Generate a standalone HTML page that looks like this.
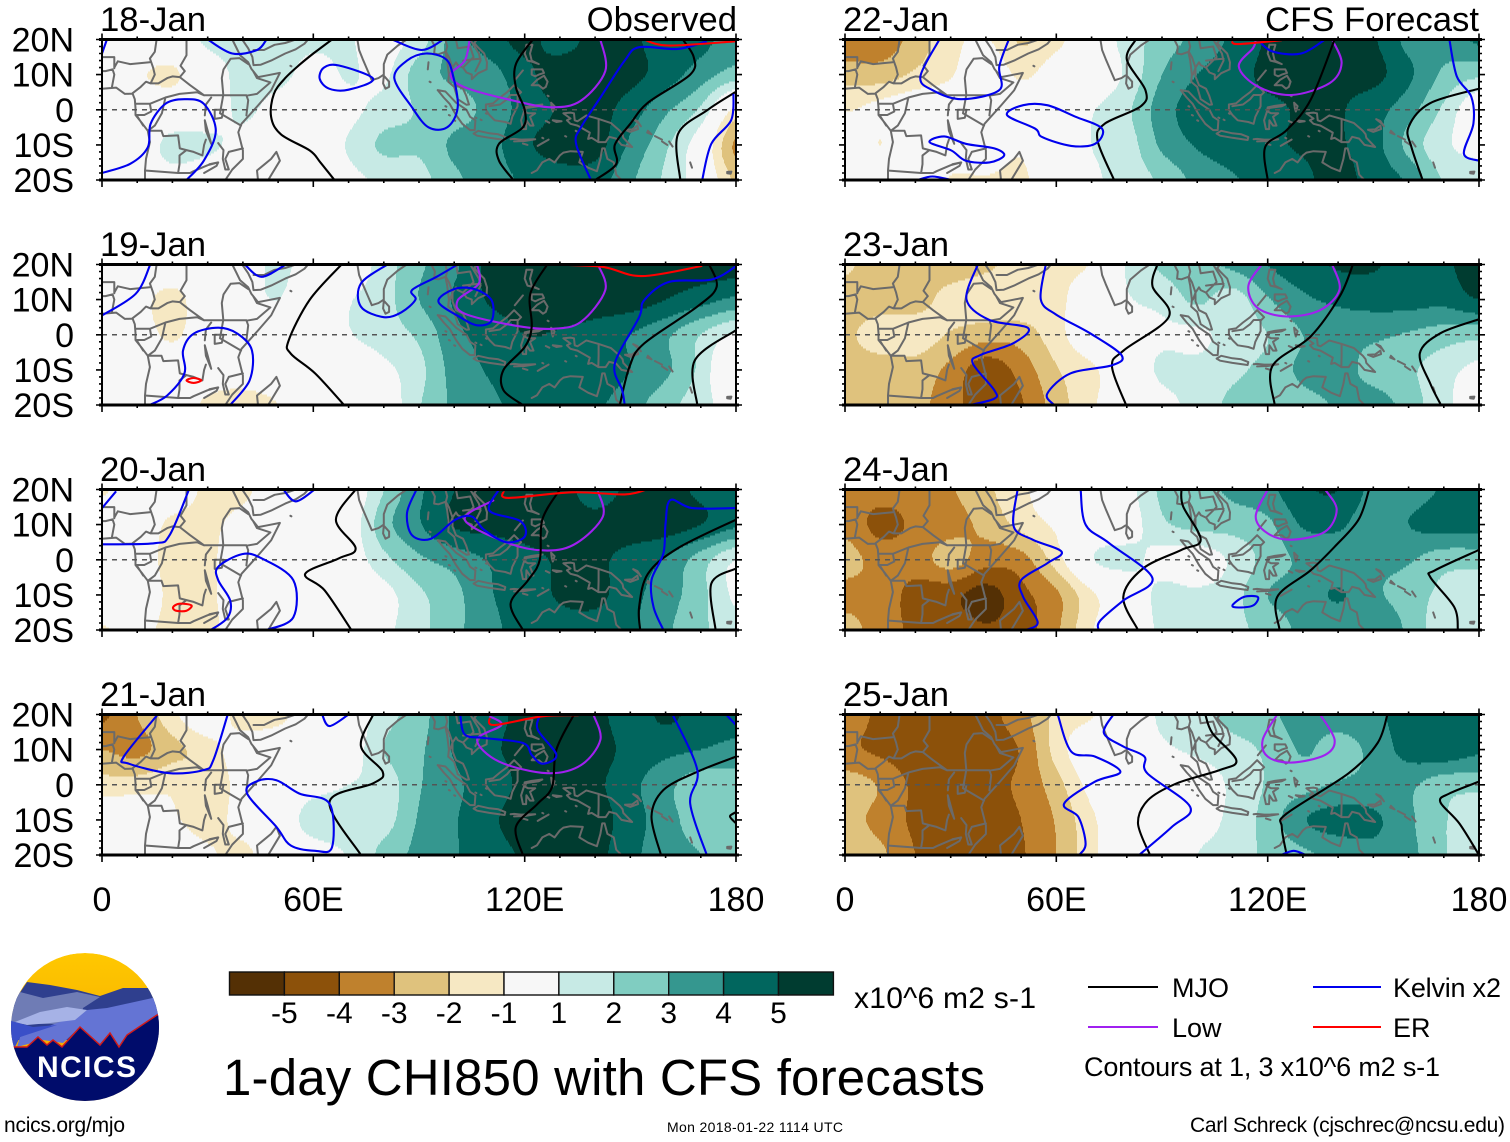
<!DOCTYPE html>
<html lang="en">
<head>
<meta charset="utf-8">
<title>1-day CHI850 with CFS forecasts</title>
<style>
html,body{margin:0;padding:0;background:#fff;width:1510px;height:1142px;overflow:hidden}
svg{display:block}
text{font-family:"Liberation Sans",sans-serif;fill:#000}
</style>
</head>
<body>
<svg id="chart" xmlns="http://www.w3.org/2000/svg" width="1510" height="1142" viewBox="0 0 1510 1142">
  <defs>
    <clipPath id="logo-clip"><circle cx="85" cy="1027" r="74"/></clipPath>
    <linearGradient id="sky" x1="0" y1="0" x2="0" y2="1"><stop offset="0" stop-color="#ffc800"/><stop offset="1" stop-color="#f0a000"/></linearGradient>
  </defs>
  <g id="panels"></g>
  <g id="axis-labels"></g>

  <g font-size="34.7">
    <text x="100" y="31">18-Jan</text>
    <text x="100" y="256">19-Jan</text>
    <text x="100" y="481">20-Jan</text>
    <text x="100" y="706">21-Jan</text>
    <text x="843" y="31">22-Jan</text>
    <text x="843" y="256">23-Jan</text>
    <text x="843" y="481">24-Jan</text>
    <text x="843" y="706">25-Jan</text>
    <text x="737" y="31" text-anchor="end">Observed</text>
    <text x="1479" y="31" text-anchor="end">CFS Forecast</text>
  </g>

  <g clip-path="url(#logo-clip)">
    <circle cx="85" cy="1027" r="74" fill="url(#sky)"/>
    <polygon fill="#2f3f8e" points="27,982 50,985 77,990 100,996 123,988 148,988 162,1010 162,1040 8,1040 15,1000"/>
    <polygon fill="#6f7cb5" points="20,992 43,998 77,992 100,997 83,1008 80,1024 8,1024 10,1007"/>
    <polygon fill="#6474d4" points="87,1010 107,1008 157,997 162,1017 127,1035 120,1047 110,1033 100,1045 80,1027 63,1043 43,1040 17,1047 20,1037 57,1023 80,1015"/>
    <polygon fill="#a6b2e6" points="15,1022 40,1012 67,1007 87,1010 75,1020 50,1023 27,1025"/>
    <polygon fill="#3a4fc8" points="8,1020 33,1027 57,1025 20,1037 15,1047 8,1047"/>
    <polygon fill="#000c6b" stroke="#d01a1a" stroke-width="1.5" points="13,1047 27,1047 38,1037 47,1045 53,1040 62,1047 80,1027 100,1045 110,1033 119,1047 127,1035 157,1015 175,1015 175,1110 0,1110 0,1047"/>
    <text x="37" y="1077" font-size="30" font-weight="bold" textLength="99" style="fill:#fff">NCICS</text>
  </g>

  <g id="colorbar"></g>
  <text x="854" y="1008" font-size="30" textLength="182">x10^6 m2 s-1</text>
  <text x="223" y="1095" font-size="51" textLength="762">1-day CHI850 with CFS forecasts</text>

  <g font-size="27">
    <line x1="1088" x2="1158" y1="987" y2="987" stroke="#000" stroke-width="2"/>
    <text x="1172" y="997">MJO</text>
    <line x1="1088" x2="1158" y1="1027" y2="1027" stroke="#a020f0" stroke-width="2"/>
    <text x="1172" y="1037">Low</text>
    <line x1="1313" x2="1381" y1="987" y2="987" stroke="#0000ee" stroke-width="2"/>
    <text x="1393" y="997" textLength="108">Kelvin x2</text>
    <line x1="1313" x2="1381" y1="1027" y2="1027" stroke="#f00" stroke-width="2"/>
    <text x="1393" y="1037">ER</text>
    <text x="1084" y="1076" textLength="356">Contours at 1, 3 x10^6 m2 s-1</text>
  </g>

  <text x="4" y="1132" font-size="21" textLength="121">ncics.org/mjo</text>
  <text x="667" y="1132" font-size="14" textLength="176">Mon 2018-01-22 1114 UTC</text>
  <text x="1190" y="1132" font-size="21" textLength="315">Carl Schreck (cjschrec@ncsu.edu)</text>
</svg>

<script>
// ---------- Axis and scale data ----------
const gridLons = [0,10,20,30,40,50,60,70,80,90,100,110,120,130,140,150,160,170,180];
const gridLats = [20,10,0,-10,-20];
const lonTickValues = [0,60,120,180];
const lonTickLabels = ['0','60E','120E','180'];
const latTickValues = [20,10,0,-10,-20];
const latTickLabels = ['20N','10N','0','10S','20S'];
const colorLevels = [-5,-4,-3,-2,-1,1,2,3,4,5];
const bandColors = ['#543005','#8c510a','#bf812d','#dfc27d','#f6e8c3','#f7f7f7','#c7eae5','#80cdc1','#35978f','#01665e','#003c30'];

// ---------- CHI850 anomaly, rows = gridLats, columns = gridLons ----------
const chi18 = [
 [0.2,0.2,0.2,1.2,1.2,1.3,1.2,1.1,0.5,1.5,3.5,4.5,5.3,4.6,5.3,5.2,4.5,4.3,3.5],
 [0,-0.8,-1.2,0.3,1.3,1.3,0.6,1.1,0.8,2.5,3.2,3.6,4.7,5.5,5.5,5.3,4.5,3.5,2.5],
 [0,0,0,0.3,1.2,0.5,0.2,0.7,1.4,2.1,2.6,3.3,4.4,5.1,5.4,4.5,3.2,1.8,-1.3],
 [0,0.3,1.3,1.2,0.6,0,0.2,1.1,2.2,2.2,3.2,3.6,4.8,5.4,5.4,3.8,2.2,0.2,-3.2],
 [0,0.2,0.6,0.2,0,0,0,0.7,1.2,1.6,2.8,3.4,4.2,4.6,4.5,3.2,1.8,0.3,-2.2]];
const chi19 = [
 [0,0,0,0,0.4,1.2,0.5,0.2,1.5,2.8,3.8,5.3,5.6,5.6,5.2,5.5,5.5,5.5,5.5],
 [0,-0.5,-1.4,0,0.5,1,0,0.9,1.6,3,4.1,5.1,5.4,5.6,5.5,5.5,5,4.4,3.8],
 [0,-0.3,-1.2,0,0.3,0,0,0.9,1.5,2.2,3.7,4.4,5,4.9,4.6,4,3.2,2,0.8],
 [0,0,0,-0.3,-0.5,-0.3,0,0,0.7,1.7,3.4,4.1,4.6,4.7,4.7,4,3.2,1.7,-0.8],
 [0,0,-0.2,-1.2,-1.3,-1,0,0,0.2,1.9,3.2,3.8,4.3,4.5,4.2,3.4,2.4,1.4,0.4]];
const chi20 = [
 [-1.2,0,0,-1.3,-1.3,0,0,0,2,3.8,5,5.4,5.5,5.4,4.6,5.2,5.4,4.8,4.5],
 [0,0,-1.3,-1.3,-0.5,0,0,0.3,2.6,3.9,5.1,5.3,5.4,5.4,5.3,5.5,5.5,5,4.2],
 [0,-0.3,-1.4,-1.3,0,0,0,0.3,1.7,2.8,3.4,4.1,4.7,5.1,5.2,4.6,3.9,2.5,1],
 [0,0,-1.3,-1.2,-0.3,0,0,0,0.6,1.8,2.7,3.9,4.5,5.1,5.3,4.3,3.5,2.3,0.8],
 [-1.1,-0.7,-1.3,-1.2,-0.5,0,0,0,0.7,1.7,2.7,3.7,4.4,4.6,4.5,4.2,3.2,2.2,1.5]];
const chi21 = [
 [-4.2,-3,-1.3,0,-1.6,-1.4,0,0,1.6,2.5,4.2,4.6,5.3,5.4,5.3,4.5,5.2,4.6,4.4],
 [-3,-3.3,-2.3,-1.5,-0.3,0,0,0.3,2,2.8,4.1,4.8,5.3,5.4,5.4,4.7,4.3,4,3.7],
 [-1.6,-1.5,-1.2,-1.8,-0.5,0,0.5,1,1.4,2.9,3.8,4.5,5.2,5.3,5.2,4.3,3.3,2.4,2.4],
 [0,0,-0.8,-1.5,-0.5,0,1.6,1.8,1.6,3.1,3.9,4.8,5.4,5.4,5.4,4.5,3.4,2.5,2.1],
 [0,0,0,-0.8,-1.3,0,0.3,1.1,2.3,3.3,3.9,4.6,5.1,5.3,5.3,4.3,3.4,3,2.4]];
const chi22 = [
 [-3.8,-3.6,-2.6,-1.3,-0.9,-2.1,-1.3,0,1.4,2.5,3.3,4.2,5.1,5.4,5.2,5.1,3.7,3.4,4.2],
 [-2.4,-2.5,-1.8,-1.1,0,-1.2,-0.3,0,1.2,3,4,4.6,5.2,5.3,5.2,5.3,4.2,2.8,2.2],
 [-1.1,-0.6,0,0,0,0,0,0.9,1.8,3.5,4.5,4.6,4.8,5.1,5.1,4.4,3.4,1.8,0],
 [0,-1,0,0,0,-0.8,0.3,1,1.5,3.2,4.1,4.5,4.8,5.1,5.1,4.4,2.7,1.2,0.7],
 [0,0,0,-1.1,-1.1,-1.2,0,0.8,1.4,2.2,3.3,3.9,4.3,4.8,5.3,4.6,3.8,1.9,1.3]];
const chi23 = [
 [-1.8,-2.6,-2.6,-2.6,-2.2,-1.6,-1.3,-0.9,1.1,2.2,2.7,3.2,4,4.6,5.1,5.1,4.6,4.8,5.6],
 [-2.5,-2.5,-2.4,-1.6,-1.3,-1.3,-1.3,0,0.9,1.3,2.2,1.5,2.9,3.8,4.2,4.4,4.4,4.3,5],
 [-2.2,-1.5,-1.5,-2.1,-2.6,-2.5,-1.4,0,0.5,0.8,0.8,1.4,2,3,3.3,3.2,2.9,2.5,2.3],
 [-2.4,-2.5,-2.4,-3.3,-4.6,-3.6,-2.1,-1.2,0,1.2,1.3,1.8,2.3,3.2,3.3,2.7,2.2,1.4,0.7],
 [-2.3,-2.6,-2.7,-3.6,-4.6,-4.1,-2.5,-1.2,0,0.6,1.4,2.2,2.3,2.7,3.1,3.4,2.6,1.2,0.7]];
const chi24 = [
 [-3.5,-3.6,-3.6,-3.1,-2.2,-1.3,0,0,0.6,2.2,2.6,3.2,3.7,4.8,5,3.7,3.5,4.1,4.1],
 [-3.3,-4.3,-3.8,-3.4,-2.7,-1.7,-0.8,0,0.4,1.8,2.3,2.4,2.8,4.1,4.2,3.3,4,4.4,4.3],
 [-2.6,-3.4,-3.5,-2.6,-3.6,-3.4,-1.5,0.9,1.3,0.6,0.3,1.2,2.4,3.2,3.3,3.2,3.1,2.4,2.4],
 [-3.3,-3.4,-4.4,-4.7,-5.4,-4.3,-3.2,-1.2,0,1.3,1.2,1.6,3,3.4,4.1,3.2,2.6,1.7,1.4],
 [-2.6,-3.5,-4.2,-4.4,-4.9,-4.5,-3.2,-1.1,0,1.2,1.4,1.7,2.4,3.2,3.2,3.8,2.8,1.3,1.4]];
const chi25 = [
 [-3.4,-4.2,-4.3,-4.6,-4.3,-3.4,-1.7,-1.1,0,1.2,1.6,2.4,2.8,3.4,3.5,3.8,4.4,4.5,4.5],
 [-3.8,-4.2,-4.6,-4.5,-4.3,-3.9,-1.6,0,0.2,0.8,1.2,1.6,2.2,3.1,2.6,3.3,4.4,4.7,4.2],
 [-2.5,-3.1,-4.2,-4.3,-4.2,-3.8,-2.4,-0.6,0,0,0.3,1.2,2.1,2.7,3.1,3.3,3.2,2.4,2.3],
 [-2.7,-3.3,-4.2,-4.4,-4.3,-4,-2.9,-1.2,0,0.6,0.5,1.3,2.4,3.9,4.4,4.2,3.2,2.1,1.3],
 [-2.5,-2.8,-4,-4.4,-4.4,-4.1,-3,-1.3,0,0,1,1.5,2.2,2.8,3.3,3.7,3.3,2.1,1.3]];

// ---------- Contours as flat lon,lat lists ----------
const mjo18 = [[65.3,20,60,16,56.3,13,52,9,48.8,4.5,48,-2,50.8,-7,59,-11.6,62,-15,66,-20],[122.3,20,117.5,13,117.5,6.4,120,0,119.5,-5,112.7,-9.7,112.7,-14.5,116.8,-20],[164.9,20,168,15,167,10,155,2,150,-4,145.6,-10,146,-15.5,140,-20],[179.8,5,172,0,163.5,-7,164.2,-20]];
const low18 = [[104.4,20,103,14,99,10,103,6.4,116.8,2.6,127.8,0.7,136,2.6,142.9,11,141.5,20]];
const kelvin18 = [[1.4,20,0,16],[30,20,37,16,44,17,46.7,20],[0,-18,8,-15.4,13,-10.7,13.8,-4,18,1.7,23.4,3,28.9,1.7,32.3,-6,28.9,-14.5,24,-20],[61.8,8.8,63,12,67.3,12.6,77,8.8,70,5.7,64.5,6,61.8,8.8],[82.4,20,90.7,17,96.9,20],[97.5,14.5,92,16,86.6,14,83,9,88,0.7,92.7,-5,98,-5,101,0.7,99.6,10,97.5,14.5],[171.7,19.5,163.5,17.3,152.5,17.8,148.4,14,141.5,3.5,136,-5,134.6,-9.7,138.8,-20],[179.3,4.5,178.6,-3,173,-9.7,170.4,-20]];
const er18 = [[153.9,20,160.8,18.3,180,19.5]];

const mjo19 = [[68,20,59,10,53,-1.6,53.6,-5.4,60.5,-11,68.7,-20],[126.4,20,121.6,11.7,122,2.3,120,-3.5,114,-10,114,-15.8,119.5,-20],[172.4,20,174.5,13.6,169,8,153.9,-2.5,149.8,-9,147,-20],[180,1.3,168.3,-7.3,169,-20]];
const low19 = [[106.5,20,107,14.6,101,9.8,103,6,116.8,2.7,127.8,1.7,136,3.7,142.9,12.7,140.8,20]];
const kelvin19 = [[13.7,20,9.6,11.7,0,5.5],[40.5,20,45.3,16.5,52.2,20],[13.5,-20,18.5,-17.3,23.4,-11,23,-4.5,26,0.3,33,2,38.5,0.3,42.6,-4.5,41.9,-13,36.4,-20],[81,20,73.5,14.6,73.5,8,80,5,85,6.4,89,10,88,12.7,95,16.5,101,20],[95.5,9.4,100,13,105.8,13,110.6,9.8,110.6,4,106.5,2.7,101.7,5,95.5,9.4],[180,19.5,173,15.7,160.8,15,153.9,9.8,152.5,5,145.6,-8.2,147.7,-15.8,148.4,-20]];
const er19 = [[123.7,20,141.5,19.4,153.2,16.7,170.4,19.6],[24,-13,26,-12.3,28.2,-13,26,-13.7,24,-13]];

const mjo20 = [[72,20,66.4,11.4,72,3.3,67.3,0.4,57.7,-4,63.2,-8.7,70.8,-20],[130,20,125,11.4,124.3,0,121,-5.8,116,-12.5,119.5,-20],[180,11.4,163.5,3.3,155,-4,152.5,-13.5,152.8,-20],[180,-2.5,173,-6.8,174.2,-20]];
const low20 = [[111.3,17,103,11.4,115.4,4.7,126.4,2.6,134.7,4.7,142.2,12.3,140.8,19.5]];
const kelvin20 = [[4,19.5,0,14.7],[24.7,20,19.2,7,15,4.7,0,4.4],[51.5,20,55,16.6,60.4,20],[30.9,-20,35.7,-16.4,36.4,-11.6,33,-5.8,33,-2,39.8,1.6,45.3,0.4,54.3,-5.8,54.3,-16.4,46.7,-20],[89.3,20,86.6,13.3,88,7,93.4,6,100.3,11.4,105,12.3,108.5,8.5,114.7,5,120,6.6,118.8,11,110,14,112.7,20],[180,14.7,167.6,14.7,161.4,17,160,10.4,159.4,1.8,156,-5.8,156.6,-13.5,159.4,-20]];
const er20 = [[114,19.5,115.4,17.6,133.3,19.2,148.4,18.6,154.6,20],[20.2,-13.5,22,-12.5,25.4,-13,24,-14.5,21,-14.5,20.2,-13.5]];

const mjo21 = [[77,20,73.5,11,79.7,3.7,77,0.4,64.6,-4.9,73.5,-20],[134,20,129,10,127.8,-0.6,123.7,-5.4,117.5,-12,119.5,-20],[180,8,169,3.7,159.4,-1.5,156,-9,158.7,-20],[180,-7.8,178.3,-9,180,-11]];
const low21 = [[110,19.5,113.4,17,106.5,12.8,112.7,6.6,126.4,3.3,136,5.6,141.5,12.8,139.5,20]];
const kelvin21 = [[15.8,20,6.2,8,7.6,6,19.2,3.3,28.9,4.2,31.6,7,35.7,20],[62.5,20,64.6,16.7,70,20],[41.2,-2.5,44,1,49.5,1.3,56,-2.5,64.6,-5.4,65.3,-17.8,60.5,-18.8,53.6,-17.3,49.5,-12,41.2,-2.5],[101.7,20,103,14.3,108.5,13.3,119.5,11.9,122,8.5,125,6,129,8.5,123.7,15.7,124.4,20],[162,20,169,4.2,167,-5.4,171.7,-20],[177.2,20,180,17]];
const er21 = [[110,19,111.4,17,125,19.5,135.3,19.8]];

const mjo22 = [[82.6,20,80,14.3,85.3,5.6,84,1,73.7,-4,71.7,-8.7,76.4,-20],[139,20,132.2,2.8,125.4,-5.8,119.3,-10.6,120,-20],[180,6,166,1.8,160,-4.9,160.8,-10.6,164,-20]];
const low22 = [[116.6,20,115.9,17.6,111.8,12.3,117.2,6.6,126.8,4.2,137.6,7.6,141,13.3,138.3,20]];
const kelvin22 = [[26.8,20,21.4,9.5,24.8,5.6,33,3,43.8,5.6,43.8,12.3,46.5,20],[46,-1.5,50.6,1.3,57.4,1.3,65.5,-2,73,-5.4,71,-9.7,64.2,-10.3,56,-7.8,54,-5.4,46,-1.5],[24,-9.2,28.2,-7.6,34.3,-9.7,42.4,-11,45.2,-13,41,-15,34.3,-14.5,30.2,-11.6,24,-9.2],[20.7,-20,24.8,-19,30.2,-20],[117.2,20,121.3,16.6,129.5,16,136.3,20],[171.6,20,173.7,9.5,177.8,3.7,178.4,-4,175.7,-12.5,180,-14.5]];
const er22 = [[109.8,19.5,111.8,18.7,124,19.8]];

const mjo23 = [[88.7,20,87.3,13.8,92,5.2,79.2,-4.4,75.8,-9,79.8,-20],[144.2,20,140.5,11,132.2,-0.5,121.3,-9,122,-20],[180,4.4,169,0.4,163.2,-5.3,166.2,-14,169.2,-20]];
const low23 = [[118.3,20,114.5,13.8,117.2,7.6,125.4,5.2,134.9,7,140.4,12.8,138.3,20]];
const kelvin23 = [[37.7,20,34.5,10,41,4.2,52,1.9,47.8,-2.4,38.4,-5.8,36.3,-8.2,42.4,-15.8,42.4,-18.2,35.6,-20],[57,20,55.6,10,60,5.7,69.6,0.4,78.5,-5.8,75.8,-8.7,64,-11,57.4,-16.8,59.4,-20]];
const er23 = [];

const mjo24 = [[95.5,20,96,15.2,101,5.7,95.5,2.8,84.6,-2.5,79,-10.6,83.2,-20],[148.8,20,145.8,11.4,139,3.7,132.2,-3,122.7,-10.6,123.4,-20],[180,2.8,167.5,-3,166.2,-5,173,-13.5,174,-20]];
const low24 = [[120,20,116.6,12.3,120,7.5,126.8,5.7,136.3,8,139.6,14.3,136.3,20]];
const kelvin24 = [[49,20,47.9,9.5,53.3,5.7,61.5,2.3,57.4,-1,50,-5.8,50.6,-10.6,54.7,-17.8,51.3,-20],[66.9,20,68.3,10,75,4.7,87.3,-5.3,79,-11.6,72.4,-17.4,72,-20],[110,-13,113.2,-10.6,117.2,-10.6,115.9,-13,111.8,-13.6,110,-13]];
const er24 = [];

const mjo25 = [[102.3,20,104.3,14.7,111.1,7,106.4,4.2,94.2,0.4,86,-4.4,83.2,-11,86.6,-20],[154,20,151.2,11.9,143,3.3,125.4,-8.2,124,-12,125.4,-20],[180,0.9,171.6,-2.5,169,-4.9,174.4,-11,180,-20]];
const low25 = [[122.7,20,118.6,12.8,120,8,126.8,6.3,136.3,8.5,139,12.8,134.9,20]];
const kelvin25 = [[60.4,20,64.2,9.5,71,8,78.2,3.7,71,0.9,62.2,-5.4,66.3,-9.2,68.3,-16.8,66.5,-20],[76.2,20,73.5,14.7,79,10.9,85,8,85.8,3.3,98,-6.3,92.8,-12,83.5,-20],[123.8,-20,127.4,-18.8,130.8,-20]];
const er25 = [];

// ---------- Coastlines and borders, lon,lat ----------
const coastlines = [
 [0,6,4,6.3,6.5,4.5,8.7,4.6,9.3,3,9.5,0.5,9.5,-1.5,11.5,-4,13,-6,13.6,-9.2,12.5,-14,12.2,-17.3,12.2,-20],
 [37,20,38,18,39.2,15.5,41.5,13.5,42.4,11.7,44.3,9.3,47,9.8,50.5,10.5,48,5.5,44.3,1.2,39.6,-4,38.7,-6.4,40,-11.6,40,-14,37,-17,35,-20],
 [49.5,-12,50.5,-14.5,47.2,-20,44.3,-20,44,-17.3,46.2,-15.5,48,-14,49.5,-12],
 [43,12.7,45,12.8,48,14,52,16,55,17.2,57.5,18.8,58.5,20],
 [43,12.7,42.7,15,41.5,17.5,39.8,20],
 [72.5,20,73,17,74,14.5,75.5,11,76.6,8.4,78.5,9,80,10,80,13,81,15.7,84,18.3,86.5,20],
 [80,9.7,81.5,8,81.5,6.5,80.5,6,79.8,7.5,80,9.7],
 [92.7,13.5,92.5,11.5],
 [95.3,5.6,97.5,5.2,100.5,2,103.5,0,104.5,-2,106,-3,105.8,-5.8,104.5,-5.8,102.3,-4,100.5,-1.5,98.7,1.7,97,3.5,95.3,5.6],
 [93.5,20,94.5,18,94.3,16,95.5,15.8,97.5,16.5,98,14,98.5,10,98.3,8,100,6.5,101,3,103.5,1.4,104.2,1.5,103.4,4,102.5,6,100.5,7,99.5,9.5,99.5,12,100.5,13.5,101,12.7,102.5,12,103.5,10.6,105,10,105,8.7,106.8,10.4,109.2,11.5,109.3,13.5,108.5,16,106.5,18,105.7,19,106.5,20],
 [109,1.5,111,1.8,113,3.5,115,5,117,7,119,5,118,4,118,1,116.5,-2,116,-4,114.5,-3.5,111.5,-3,110,-1.5,109,0,109,1.5],
 [119.5,-5.5,120.4,-5.5,120.5,-3,121.5,-4.5,122.5,-4.5,121.5,-2,123,-1,121,-1,120,-0.5,120.5,0.5,124,1,125,1.5,122,1.1,120,0.7,119.8,-0.5,119,-3,119.5,-5.5],
 [105.5,-6.8,106.8,-6,110,-6.7,112.5,-7,114.5,-7.8,114.3,-8.6,110,-8,106.5,-7.4,105.5,-6.8],
 [116,-8.4,117,-8.3,119,-8.5,123,-8.4,120,-8.9,117,-9],
 [123.7,-10.3,126.8,-8.5,125,-9.5,123.7,-10.3],
 [119.5,-9.6,120.8,-10],
 [120.5,18.5,122.2,18.5,121.5,16,122,14,124,13,122,13.7,120.8,14,120,16,120.5,18.5],
 [122,7,123.5,8.5,125.5,9.7,126.5,8,126,6.5,125.2,6,124,7,122,7],
 [122,11.5,123.5,11.5,125,11.5,125.5,10.5,124,10,123,9.5,122,10,122,11.5],
 [117.2,8.4,119.5,11.2],
 [127.5,2,128.5,1,128,-0.5,127.7,0.5,127.5,2],
 [128,-3,130.5,-3.3,129,-3.5,128,-3],
 [126,-3.2,127,-3.7],
 [131,-1,133,-0.8,134,-1,134.2,-3,135,-3.3,137.5,-1.6,141,-2.6,144.5,-3.8,147,-6,147.8,-7,148,-8,150.5,-10.6,147.5,-10,146,-8.2,144,-7.7,143,-9.2,141,-9.2,139,-8,138,-8.3,138.5,-6.5,135,-4.5,133,-4,132,-3,133,-2.5,131,-1],
 [148.5,-5.7,150.5,-5.6,152,-4.5,152.2,-5.5,150,-6.3,148.5,-5.7],
 [150.8,-2.7,152.5,-4,153,-4.7,152,-3.2,150.8,-2.7],
 [155,-6,156,-7,154.8,-6.5,155,-6],[157,-7.5,159,-8.5],[159,-9,160.5,-10],[161,-9,162,-10.5],
 [167,-15,167.5,-16.5],
 [177.5,-17.7,178.7,-17.6,178.5,-18.2,177.5,-18.1,177.5,-17.7],
 [122,-18,123.5,-17.2,125,-15,127,-14,128.5,-15,130,-13,131,-12.2,133,-11.8,136.5,-12,136,-13.5,135.5,-15,138,-16.5,140.5,-17.5,141.5,-14,142,-11,142.7,-11,143.5,-14,145.3,-15,146,-18.5,147.5,-20]
];
const borders = [
 [0,11,1,11,3,11.5,3.5,10,2.8,6.4],
 [0,15,3.5,15,3.5,11.8],
 [3.5,12,4.5,13.8,8,13,13.5,13.5],
 [15.5,20,15,16.5,13.6,14.6,14.5,12,15,10,13.8,7.5,12.5,8,11,6.5,8.7,4.7],
 [13.8,7.5,16,7.5,18.5,9,20,9.5,22.1,9.3],
 [24,20,24,15.5,22.3,12.5,23.5,11,22.1,9.3,25,7,29,4.1,34.4,4.1,41,4.1,41.5,2.7,41,-1.6],
 [41,4,44,4.5,47.8,7.8,44,9,43,10.8],
 [34.4,4.5,34,9,34.5,11.5,36.5,14.5,39,14.7,41.5,13],
 [29.2,-1.6,29.5,1.5,31,3.5],
 [32,0,34.5,0,34,-2.3,32,-2.6,32,0],
 [29.2,-3,29.5,-6,31,-9.7,30,-6,29.2,-3],
 [9.4,1.7,13.6,1.7,14,-0.5,12,-1.5,9.8,-1.5,11.7,-4.5],
 [13.6,1.7,18,3.5,22,4.5,27,5,29,4.1],
 [18,3.5,17,-1,15,-4.5,13,-6],
 [13,-6,16.9,-6,17.4,-7.5,21.6,-7.3,22.1,-11,24,-11.5,22,-13,22,-15.5,21.6,-18],
 [24,-11.5,26,-12,28.5,-13,29,-10,29.5,-8.5],
 [12.2,-17.3,21.6,-18,25,-18,26,-17.5,30,-15.8,33,-15],
 [33.5,-1,39.5,-4.5],
 [34.4,4.1,33.5,-1],
 [33,-9.5,34.5,-11.5,34.3,-14,35,-17,36,-17,35,-14,36,-12,40,-11],
 [29,-18,32.5,-16,33,-15,30.5,-15.5],
 [43,17,46,17,49,18.5,52,19,55,20],
 [100.5,20,101,17.5,104.5,18,105.5,15,102.5,12],
 [104.5,20,107,16,107.5,14,106,11],
 [102.5,14,105.5,14.4,107.5,14.5],
 [97.5,20,98,18,97.6,16.5,98.5,15,99.5,12,98.8,10],
 [110,1,113,1.5,115,3,116,4.2,118,4.2],
 [141,-2.6,141,-6,140.9,-9.2]
];
const islandDots = [53.5,12.5,93,8,97.5,1,98.5,-1.5,100,-3,107.5,-2.8,106,-2.2,109,-1,125,-8,131.5,-7.5,134.5,-6,126.5,4];

const panelDates = ['18-Jan','19-Jan','20-Jan','21-Jan','22-Jan','23-Jan','24-Jan','25-Jan'];
const panelChi = [chi18,chi19,chi20,chi21,chi22,chi23,chi24,chi25];
const panelMjo = [mjo18,mjo19,mjo20,mjo21,mjo22,mjo23,mjo24,mjo25];
const panelLow = [low18,low19,low20,low21,low22,low23,low24,low25];
const panelKelvin = [kelvin18,kelvin19,kelvin20,kelvin21,kelvin22,kelvin23,kelvin24,kelvin25];
const panelEr = [er18,er19,er20,er21,er22,er23,er24,er25];

// ---------- Layout ----------
const NS = 'http://www.w3.org/2000/svg';
const panelWidth = 634, panelHeight = 140.5;
const colLeft = [102, 845];
const rowTop = [39.5, 264.5, 489.5, 714.5];
const svgRoot = document.getElementById('chart');
const defs = svgRoot.querySelector('defs');
const panelsGroup = document.getElementById('panels');
const axisLabels = document.getElementById('axis-labels');

function svgEl(tag, attrs, parent) {
  const el = document.createElementNS(NS, tag);
  for (const k in attrs) el.setAttribute(k, attrs[k]);
  parent.appendChild(el);
  return el;
}
function xScale(lon, left) { return left + (lon - 0) / 180 * panelWidth; }
function yScale(lat, top) { return top + (20 - lat) / 40 * panelHeight; }
function lonFromX(px) { return px / panelWidth * 180; }
function latFromY(py) { return 20 - py / panelHeight * 40; }

function cubic(p0, p1, p2, p3, t) {
  return p1 + 0.5 * t * (p2 - p0 + t * (2 * p0 - 5 * p1 + 4 * p2 - p3 + t * (3 * (p1 - p2) + p3 - p0)));
}
function chiAt(grid, lon, lat) {
  const lonStep = gridLons[1] - gridLons[0];
  const latStep = gridLats[0] - gridLats[1];
  const cf = Math.min((lon - gridLons[0]) / lonStep, gridLons.length - 1.0001);
  const rf = Math.min((gridLats[0] - lat) / latStep, gridLats.length - 1.0001);
  const c = Math.floor(cf), r = Math.floor(rf), tc = cf - c, tr = rf - r;
  const rowVals = [];
  for (let k = -1; k <= 2; k++) {
    const row = grid[Math.max(0, Math.min(gridLats.length - 1, r + k))];
    rowVals.push(cubic(
      row[Math.max(0, c - 1)], row[c], row[Math.min(gridLons.length - 1, c + 1)],
      row[Math.min(gridLons.length - 1, c + 2)], tc));
  }
  return cubic(rowVals[0], rowVals[1], rowVals[2], rowVals[3], tr);
}
function bandIndex(v) {
  let i = 0;
  while (i < colorLevels.length && v >= colorLevels[i]) i++;
  return i;
}
function smoothPath(flat, left, top) {
  const pts = [];
  for (let i = 0; i < flat.length; i += 2) pts.push([xScale(flat[i], left), yScale(flat[i + 1], top)]);
  const closed = flat.length > 4 && flat[0] === flat[flat.length - 2] && flat[1] === flat[flat.length - 1];
  const n = pts.length;
  const at = i => closed ? pts[((i % (n - 1)) + (n - 1)) % (n - 1)] : pts[Math.max(0, Math.min(n - 1, i))];
  let d = 'M' + pts[0][0].toFixed(1) + ' ' + pts[0][1].toFixed(1);
  for (let i = 0; i < n - 1; i++) {
    const p0 = at(i - 1), p1 = at(i), p2 = at(i + 1), p3 = at(i + 2);
    const c1x = p1[0] + (p2[0] - p0[0]) / 6, c1y = p1[1] + (p2[1] - p0[1]) / 6;
    const c2x = p2[0] - (p3[0] - p1[0]) / 6, c2y = p2[1] - (p3[1] - p1[1]) / 6;
    d += 'C' + c1x.toFixed(1) + ' ' + c1y.toFixed(1) + ' ' + c2x.toFixed(1) + ' ' + c2y.toFixed(1) + ' ' + p2[0].toFixed(1) + ' ' + p2[1].toFixed(1);
  }
  return d;
}
function linePath(flat, left, top) {
  let d = '';
  for (let i = 0; i < flat.length; i += 2) {
    d += (i ? 'L' : 'M') + xScale(flat[i], left).toFixed(1) + ' ' + yScale(flat[i + 1], top).toFixed(1);
  }
  return d;
}

function drawPanel(idx) {
  const left = colLeft[idx < 4 ? 0 : 1];
  const top = rowTop[idx % 4];
  const date = panelDates[idx].toLowerCase();
  const g = svgEl('g', {}, panelsGroup);
  
  

  const clipId = 'clip-' + idx;
  const clip = svgEl('clipPath', { id: clipId }, defs);
  svgEl('rect', { x: left, y: top, width: panelWidth, height: panelHeight }, clip);

  // heatmap cells: horizontal runs of equal contour band
  const heat = svgEl('g', { 'shape-rendering': 'crispEdges', 'clip-path': 'url(#' + clipId + ')' }, g);
  
  
  const grid = panelChi[idx];
  const rowStep = 2;
  for (let py = 0; py < panelHeight; py += rowStep) {
    let runStart = 0, runBand = -1;
    const lat = latFromY(py + rowStep / 2);
    for (let px = 0; px <= panelWidth; px++) {
      const band = px < panelWidth ? bandIndex(chiAt(grid, lonFromX(px + 0.5), lat)) : -2;
      if (band !== runBand) {
        if (runBand >= 0) {
          const cell = svgEl('rect', { x: left + runStart, y: top + py, width: px - runStart, height: rowStep, fill: bandColors[runBand] }, heat);
          
          
        }
        runStart = px;
        runBand = band;
      }
    }
  }

  const mapG = svgEl('g', { fill: 'none', stroke: '#6a6a6a', 'stroke-width': 2, 'stroke-linejoin': 'round', 'stroke-linecap': 'round', 'clip-path': 'url(#' + clipId + ')' }, g);
  
  
  let mapD = '';
  coastlines.forEach(c => { mapD += linePath(c, left, top); });
  borders.forEach(c => { mapD += linePath(c, left, top); });
  for (let i = 0; i < islandDots.length; i += 2) {
    const x = xScale(islandDots[i], left), y = yScale(islandDots[i + 1], top);
    mapD += 'M' + x.toFixed(1) + ' ' + y.toFixed(1) + 'l1 0.5';
  }
  const mapPath = svgEl('path', { d: mapD }, mapG);
  
  

  const eq = svgEl('line', { x1: left, x2: left + panelWidth, y1: yScale(0, top), y2: yScale(0, top), stroke: '#555', 'stroke-width': 1.5, 'stroke-dasharray': '5 5' }, g);
  
  

  const contourG = svgEl('g', { fill: 'none', 'stroke-width': 2.1, 'clip-path': 'url(#' + clipId + ')' }, g);
  
  
  panelLow[idx].forEach(c => {
    const p = svgEl('path', { d: smoothPath(c, left, top), stroke: '#a020f0' }, contourG);
    
    
  });
  panelMjo[idx].forEach(c => {
    const p = svgEl('path', { d: smoothPath(c, left, top), stroke: '#000' }, contourG);
    
    
  });
  panelKelvin[idx].forEach(c => {
    const p = svgEl('path', { d: smoothPath(c, left, top), stroke: '#0000ee' }, contourG);
    
    
  });
  panelEr[idx].forEach(c => {
    const p = svgEl('path', { d: smoothPath(c, left, top), stroke: '#f00' }, contourG);
    
    
  });

  // frame and ticks
  const bottom = top + panelHeight, right = left + panelWidth;
  let ticks = '';
  for (let lon = 0; lon <= 180; lon += 10) {
    const x = xScale(lon, left).toFixed(1);
    const major = lon % 60 === 0;
    ticks += 'M' + x + ' ' + top + 'v' + (major ? -6 : -3);
    ticks += 'M' + x + ' ' + bottom + 'v' + (major ? 7 : 3);
  }
  for (let lat = -20; lat <= 20; lat += 2) {
    const y = yScale(lat, top).toFixed(1);
    const major = lat % 10 === 0;
    ticks += 'M' + left + ' ' + y + 'h' + (major ? -6 : -3);
    ticks += 'M' + right + ' ' + y + 'h' + (major ? 6 : 3);
  }
  const tickPath = svgEl('path', { d: ticks, stroke: '#000', 'stroke-width': 1.6, fill: 'none' }, g);
  
  
  const frameV = svgEl('path', { d: 'M' + left + ' ' + top + 'V' + bottom + 'M' + right + ' ' + top + 'V' + bottom, stroke: '#000', 'stroke-width': 2, fill: 'none' }, g);
  
  
  const frameH = svgEl('path', { d: 'M' + (left - 3) + ' ' + top + 'H' + (right + 3) + 'M' + (left - 3) + ' ' + bottom + 'H' + (right + 3), stroke: '#000', 'stroke-width': 3, fill: 'none' }, g);
  
  

  // latitude labels on the left column only
  if (idx < 4) {
    latTickValues.forEach((lat, i) => {
      const t = svgEl('text', { x: 74, y: yScale(lat, top) + 12, 'font-size': 34, 'text-anchor': 'end' }, axisLabels);
      t.textContent = latTickLabels[i];
      
      
    });
  }
  // longitude labels under the bottom row
  if (idx % 4 === 3) {
    lonTickValues.forEach((lon, i) => {
      const t = svgEl('text', { x: xScale(lon, left), y: 911, 'font-size': 34, 'text-anchor': 'middle' }, axisLabels);
      t.textContent = lonTickLabels[i];
      
      
    });
  }
}
panelDates.forEach((d, i) => drawPanel(i));

// ---------- Colorbar ----------
const barG = document.getElementById('colorbar');
const barLeft = 229.5, barTop = 972, barBoxW = 54.9, barH = 23;
bandColors.forEach((c, i) => {
  const r = svgEl('rect', { x: barLeft + i * barBoxW, y: barTop, width: barBoxW, height: barH, fill: c, stroke: '#111', 'stroke-width': 1.4 }, barG);
  
  
});
colorLevels.forEach((lv, i) => {
  const t = svgEl('text', { x: barLeft + (i + 1) * barBoxW, y: 1023, 'font-size': 30, 'text-anchor': 'middle' }, barG);
  t.textContent = String(lv);
  
  
});
</script>
</body>
</html>
